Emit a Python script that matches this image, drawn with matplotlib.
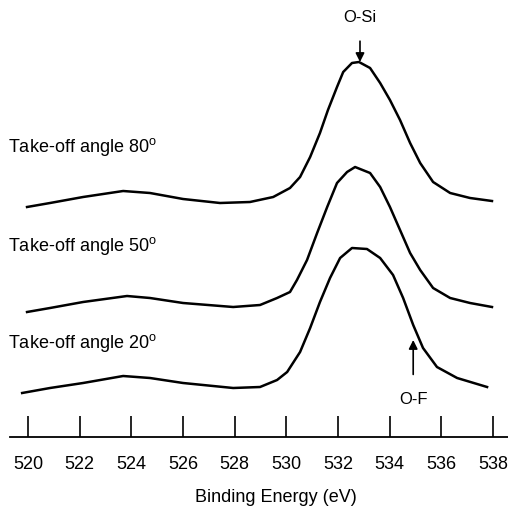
import matplotlib
matplotlib.use('Agg')
import matplotlib.pyplot as plt
import numpy as np

plt.rcParams['font.family'] = ['Liberation Sans', 'DejaVu Sans']
plt.rcParams['mathtext.fontset'] = 'custom'
plt.rcParams['mathtext.rm'] = 'Liberation Sans'

# Binding energy (eV) and stacked intensity (a.u.)
energy_80 = [519.96, 520.85, 522.13, 523.68, 524.72, 526.00, 527.43, 528.59, 529.49,
             530.14, 530.53, 530.92, 531.30, 531.61, 531.96, 532.20, 532.54, 532.81,
             533.24, 533.63, 534.01, 534.40, 534.79, 535.18, 535.68, 536.34, 537.11,
             537.96]
int_80 = [230, 234, 240, 246, 244, 238, 234, 235, 240,
          249, 260, 280, 304, 327, 350, 365, 374, 375,
          369, 354, 337, 317, 294, 274, 255, 244, 239,
          236]

energy_50 = [519.96, 520.85, 522.13, 523.83, 524.72, 526.00, 527.94, 528.98, 529.64,
             530.14, 530.41, 530.80, 531.19, 531.58, 531.96, 532.35, 532.66, 533.24,
             533.63, 534.01, 534.40, 534.79, 535.18, 535.68, 536.34, 537.11, 537.96]
int_50 = [125, 129, 135, 141, 139, 134, 130, 132, 139,
          145, 157, 177, 204, 230, 254, 265, 270, 264,
          250, 230, 207, 184, 167, 149, 139, 134, 130]

energy_20 = [519.77, 520.85, 522.13, 523.68, 524.72, 526.00, 527.94, 528.98, 529.64,
             530.03, 530.53, 530.92, 531.30, 531.69, 532.08, 532.54, 533.12, 533.63,
             534.13, 534.52, 534.91, 535.29, 535.83, 536.61, 537.77]
int_20 = [44, 49, 54, 61, 59, 54, 49, 50, 57,
          65, 85, 109, 135, 159, 179, 189, 188, 179,
          162, 139, 112, 89, 70, 59, 50]

labels = ['Take-off angle 80$^{\\mathrm{o}}$',
          'Take-off angle 50$^{\\mathrm{o}}$',
          'Take-off angle 20$^{\\mathrm{o}}$']
label_y = [290, 191, 94]
xticks = np.arange(520, 539, 2)

fig = plt.figure(figsize=(5.08, 5.13), dpi=100)
ax = fig.add_axes([10 / 508, 76 / 513, 498 / 508, 437 / 513])

for e, i in [(energy_80, int_80), (energy_50, int_50), (energy_20, int_20)]:
    ax.plot(e, i, color='black', linewidth=1.8, solid_joinstyle='round')

for lab, ly in zip(labels, label_y):
    ax.text(519.22, ly, lab, fontsize=13, ha='left', va='center', clip_on=False)

# peak annotations
ax.annotate('O-Si', xy=(532.85, 375), xytext=(532.85, 420), ha='center', va='center',
            fontsize=12,
            arrowprops=dict(arrowstyle='-|>', color='black', lw=1.2, mutation_scale=13,
                            shrinkA=10, shrinkB=0))
ax.annotate('O-F', xy=(534.91, 97), xytext=(534.91, 37), ha='center', va='center',
            fontsize=12,
            arrowprops=dict(arrowstyle='-|>', color='black', lw=1.2, mutation_scale=13,
                            shrinkA=11, shrinkB=0))

ax.set_xlim(519.30, 538.58)
ax.set_ylim(0, 437)
for s in ['top', 'left', 'right']:
    ax.spines[s].set_visible(False)
ax.spines['bottom'].set_linewidth(1.3)
ax.set_yticks([])
ax.set_xticks(xticks)
ax.set_xticklabels([str(t) for t in xticks])
ax.tick_params(axis='x', direction='in', length=15, width=1.2, pad=14, labelsize=13)
ax.set_xlabel('Binding Energy (eV)', fontsize=13)
ax.xaxis.set_label_coords(0.534, -0.12)

fig.savefig('out.png', dpi=100)
